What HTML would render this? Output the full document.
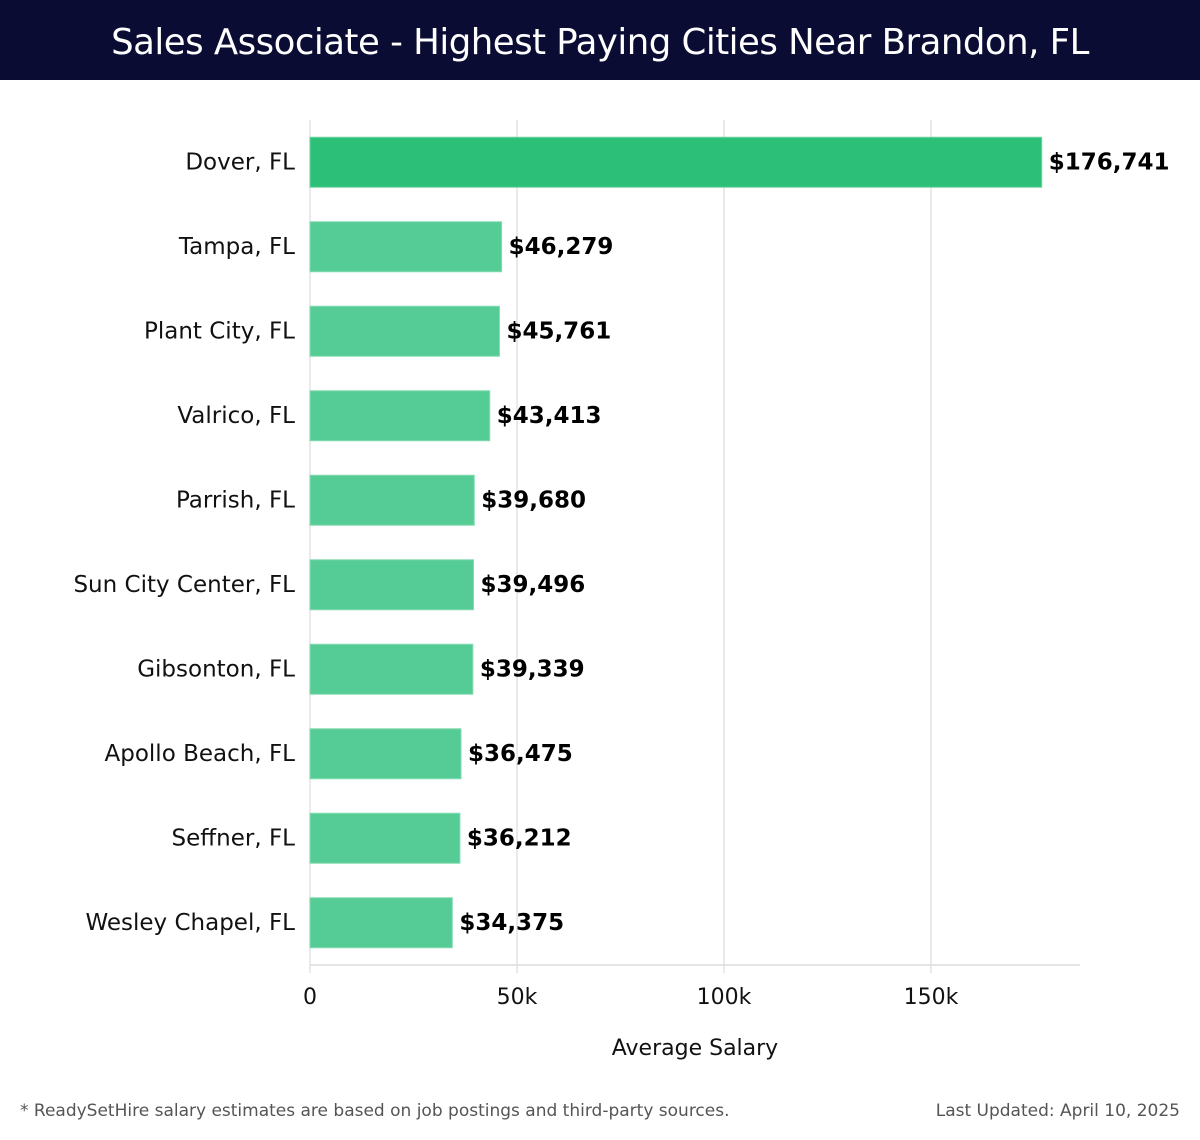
<!DOCTYPE html>
<html><head><meta charset="utf-8"><style>
body{margin:0;width:1200px;height:1140px;background:#fff;overflow:hidden;font-family:"DejaVu Sans","Liberation Sans",sans-serif}
#title{position:absolute;left:0;top:0;width:1200px;height:80px;background:#0b0c33;color:#fff;font-size:35.5px;text-align:center;line-height:85px;font-family:"DejaVu Sans",sans-serif;font-weight:normal;letter-spacing:-0.5px}
.foot{position:absolute;top:1101px;font-size:17px;color:#555}
</style></head><body>
<div id="title">Sales Associate - Highest Paying Cities Near Brandon, FL</div>
<svg id="chart" width="1200" height="1140" style="position:absolute;left:0;top:0"></svg>
<div class="foot" style="left:20px">* ReadySetHire salary estimates are based on job postings and third-party sources.</div>
<div class="foot" style="right:20px">Last Updated: April 10, 2025</div>
<script>
const cities=["Dover, FL","Tampa, FL","Plant City, FL","Valrico, FL","Parrish, FL","Sun City Center, FL","Gibsonton, FL","Apollo Beach, FL","Seffner, FL","Wesley Chapel, FL"];
const salaries=[176741,46279,45761,43413,39680,39496,39339,36475,36212,34375];
const ticks=[0,50000,100000,150000];
const tickLabels=["0","50k","100k","150k"];
const svg=document.getElementById('chart');const NS='http://www.w3.org/2000/svg';
const x0=310,pxPerUnit=207/50000,top0=120,band=84.5,barH=50,axisY=965;
const X=v=>x0+v*pxPerUnit;const Y=i=>top0+band*i+band/2;
function mk(t,a){const e=document.createElementNS(NS,t);for(const k in a)e.setAttribute(k,a[k]);svg.appendChild(e);return e;}
ticks.forEach((t,i)=>{
 const g=mk('line',{x1:X(t),x2:X(t),y1:top0,y2:axisY+8,stroke:'#e3e3e3','stroke-width':1.5});
 
 
 const l=mk('text',{x:X(t),y:1004,'text-anchor':'middle','font-size':22,fill:'#111'});l.textContent=tickLabels[i];
 
 
});
const ax=mk('line',{x1:x0,x2:1080,y1:axisY,y2:axisY,stroke:'#ddd','stroke-width':1.5});


cities.forEach((c,i)=>{
 const r=mk('rect',{x:x0,y:Y(i)-barH/2,width:X(salaries[i])-x0,height:barH,fill:i==0?'#2bbf77':'#55cc95',stroke:i==0?'#6fd6a3':'#85dbb2','stroke-width':1});
 
 
 const l=mk('text',{x:295,y:Y(i)+7,'text-anchor':'end','font-size':23,fill:'#111'});l.textContent=c;
 
 
 const v=mk('text',{x:X(salaries[i])+7,y:Y(i)+7,'font-size':23,'font-weight':'bold',fill:'#000'});v.textContent='$'+salaries[i].toLocaleString('en-US');
 
 
});
const at=mk('text',{x:695,y:1055,'text-anchor':'middle','font-size':22,fill:'#111'});at.textContent='Average Salary';


</script>
</body></html>
